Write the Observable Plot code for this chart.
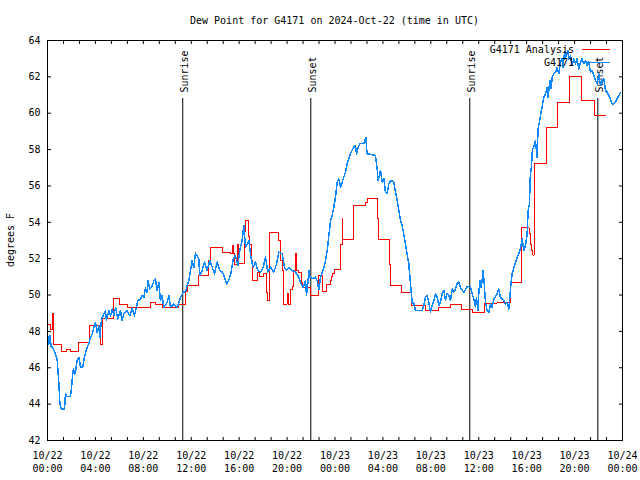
<!DOCTYPE html>
<html><head><meta charset="utf-8">
<script src="https://cdn.jsdelivr.net/npm/d3@7"></script>
<script src="https://cdn.jsdelivr.net/npm/@observablehq/plot@0.6"></script>
<style>body{margin:0;background:#fff} svg{display:block}</style>
</head><body><div id="chart"></div>
<script>
// ---- data ----
const startDay = Date.UTC(2024, 9, 22); // 2024-10-22 00:00 UTC
const chartTitle = "Dew Point for G4171 on 2024-Oct-22 (time in UTC)";
const yAxisLabel = "degrees F";
const seriesNames = ["G4171 Analysis", "G4171"];
const seriesColors = ["#ff0000", "#1088ff"];

// Observations (hours since start, °F)
const obsHours = [0,0.11,0.19,0.31,0.39,0.67,0.81,0.95,1.03,1.14,1.42,1.5,1.64,1.92,2.0,2.09,2.17,2.28,2.37,2.48,2.64,2.75,2.95,3.03,3.12,3.26,3.45,3.59,3.73,3.87,4.01,4.15,4.28,4.37,4.51,4.7,4.84,4.92,5.12,5.26,5.4,5.54,5.68,5.87,6.09,6.23,6.37,6.65,6.87,7.07,7.26,7.43,7.54,7.76,7.9,8.04,8.18,8.32,8.38,8.54,8.74,8.88,9.02,9.15,9.29,9.43,9.57,9.71,9.99,10.13,10.27,10.55,10.82,10.96,11.1,11.32,11.52,11.66,11.8,11.94,12.07,12.21,12.35,12.49,12.63,12.71,
12.91,13.11,13.33,13.55,13.75,13.94,14.16,14.38,14.58,14.72,14.94,15.13,15.33,15.5,15.69,15.89,16.05,16.25,16.39,16.53,16.81,17.0,17.17,17.36,17.55,17.78,18.0,18.2,18.39,18.62,18.89,19.12,19.31,19.59,19.78,19.95,20.15,20.42,20.7,20.98,21.17,21.34,21.54,21.62,21.73,21.82,21.9,22.09,22.37,22.51,22.65,22.79,22.93,
23.07,23.21,23.35,23.49,23.63,23.76,23.9,24.04,24.18,24.32,24.46,24.6,24.73,24.87,25.01,25.15,25.29,25.43,25.57,25.71,25.79,25.9,26.07,26.41,26.57,26.68,27.38,27.52,27.6,27.8,27.94,28.08,28.21,28.35,28.49,28.69,28.91,29.05,29.19,29.33,29.47,29.6,29.74,29.88,30.02,30.16,30.3,30.44,30.58,30.72,31.27,31.41,31.55,31.69,31.83,31.97,32.11,32.25,32.39,32.53,32.67,32.81,32.94,33.08,33.22,33.36,33.5,33.64,33.78,33.92,34.06,34.19,34.33,34.47,
34.75,35.03,35.31,35.45,35.59,35.73,35.81,35.92,36.0,36.09,36.2,36.28,36.37,36.48,36.56,36.7,36.84,36.98,37.12,37.26,37.4,37.53,37.67,37.81,37.95,38.09,38.23,38.37,38.51,38.59,38.7,38.79,38.93,39.07,39.2,39.34,39.48,39.62,39.76,39.9,40.04,40.12,40.23,40.31,40.4,40.48,40.59,40.73,40.87,40.95,41.09,41.15,41.29,41.43,41.57,41.71,41.79,41.93,42.04,42.13,42.27,42.41,42.54,42.68,42.82,42.96,43.04,43.16,43.24,43.32,43.44,43.52,43.66,43.79,43.93,44.07,44.21,44.35,44.49,44.63,44.77,44.91,45.05,45.19,45.33,45.46,45.6,45.74,45.88,46.02,46.16,46.3,46.44,46.58,46.72,46.86,46.99,47.13,47.27,47.41,47.55,47.69,47.83];
const obsValues = [47.86,47.3,47.77,47.13,47.16,46.76,46.43,45.1,44.1,43.74,43.74,44.57,44.42,44.42,44.84,45.57,45.94,45.66,45.94,46.4,46.58,46.03,46.03,46.4,46.67,47.03,47.31,47.67,47.86,48.22,48.5,47.95,48.31,47.67,48.68,48.95,49.14,48.59,49.14,48.86,49.23,48.86,49.32,48.68,49.14,48.59,48.95,49.14,48.86,49.28,48.86,49.36,49.69,49.78,49.96,49.87,50.38,50.14,50.78,50.33,50.51,50.78,50.87,50.23,50.69,49.69,49.96,49.32,49.59,49.96,49.32,49.5,49.32,49.59,49.87,50.14,50.2,50.51,50.78,51.33,51.88,51.51,52.3,52.15,51.97,51.06,
51.35,51.81,51.35,51.9,51.53,51.17,51.81,51.35,51.26,51.08,50.62,50.8,51.26,51.99,52.18,51.63,52.45,53.0,53.83,52.63,53.0,51.99,51.53,51.81,51.35,51.26,51.53,52.08,51.26,51.53,51.26,51.72,52.36,52.27,51.53,51.35,51.53,51.35,51.26,50.98,50.62,50.43,50.8,49.97,50.62,51.35,51.0,50.89,50.98,50.8,50.3,50.98,51.26,
51.53,51.9,52.45,53.28,54.1,54.38,54.83,55.38,56.21,56.39,55.93,56.21,56.48,56.76,57.22,57.49,57.77,57.95,58.13,58.23,57.77,58.04,58.32,58.35,58.68,57.77,57.68,56.94,56.3,56.85,56.21,56.39,55.66,55.57,56.12,56.3,56.21,55.66,55.2,54.65,54.1,53.83,53.37,52.82,52.27,51.72,50.62,49.61,49.52,49.15,49.15,49.43,49.88,49.98,49.61,49.06,49.43,49.7,50.07,49.88,49.43,49.61,50.07,50.25,49.7,50.07,49.98,49.7,50.34,50.16,50.34,50.62,50.71,50.43,
50.15,50.46,50.46,50.06,49.78,49.32,49.87,49.14,50.06,50.79,50.42,50.79,51.34,50.42,49.6,49.14,49.05,49.5,49.32,49.78,49.91,50.06,50.33,49.87,49.78,49.69,49.5,49.6,49.23,49.87,50.7,51.16,51.52,51.8,52.07,52.26,52.53,53.08,52.44,52.72,53.36,54.64,55.01,56.66,57.03,58.04,58.13,58.5,57.58,59.14,59.6,59.87,60.33,60.88,61.06,61.43,60.88,61.8,61.34,61.98,62.17,62.26,62.53,62.17,62.81,62.99,62.53,63.36,63.08,63.17,63.45,62.99,63.17,62.62,62.99,62.72,62.99,62.44,62.81,62.99,62.72,62.9,62.62,62.81,62.26,62.35,62.07,61.8,61.61,62.17,61.52,61.8,61.89,61.25,61.16,60.97,60.79,60.51,60.51,60.61,60.79,60.97,61.1];

// Analysis (step series; hours since start, °F)
const anaHours = [0,0.25,0.45,0.52,1.14,1.59,1.92,2.55,3.53,4.45,4.62,5.5,6.04,6.65,8.6,9.0,9.57,10.96,11.5,11.66,12.63,13.47,13.61,14.58,15.28,15.45,15.55,15.61,15.89,15.95,16.45,16.55,16.75,16.9,17.0,17.08,17.14,17.56,17.72,18.06,18.28,18.35,18.56,19.31,19.45,19.59,19.73,20.0,20.15,20.29,20.43,20.56,20.7,20.79,20.98,21.17,21.25,21.98,22.6,22.93,23.26,23.62,23.7,23.81,23.98,24.45,24.6,24.66,25.55,26.55,26.68,27.58,27.64,28.57,28.62,29.55,30.35,31.55,32.67,33.64,34.6,35.45,36.45,37.53,38.65,39.6,40.2,40.3,40.4,40.5,40.62,41.65,42.54,43.6,44.6,45.65,46.63];
const anaValues = [48.4,48.1,49.0,47.3,46.9,47.0,46.9,47.4,48.35,47.3,48.7,49.8,49.5,49.3,49.6,49.5,49.3,49.5,50.2,50.5,51.1,51.9,52.6,52.36,52.27,52.7,52.27,51.7,52.8,51.75,53.5,54.1,53.2,52.8,51.9,51.35,50.8,51.26,51.0,51.17,50.16,49.7,53.46,53.0,51.9,51.35,49.5,50.1,49.5,50.3,50.45,51.35,52.3,51.35,51.26,50.7,50.43,49.97,51.07,50.2,50.6,50.8,51.0,51.2,51.4,52.8,54.2,53.05,54.9,55.1,55.3,54.2,53.05,51.7,50.5,50.15,49.4,49.15,49.3,49.5,49.2,49.05,49.55,49.6,50.7,53.7,53.4,52.8,52.45,52.2,57.25,59.2,60.6,62.0,60.7,59.85,59.85];

// Sunrise / sunset markers
const eventHours = [11.29, 21.98, 35.25, 45.94];
const eventLabels = ["Sunrise", "Sunset", "Sunrise", "Sunset"];

// Axis ticks
const yTicks = [42,44,46,48,50,52,54,56,58,60,62,64];
const xTickStepHours = 4/3;   // minor tick every 80 min
const xLabelStepHours = 4;
const xSpanHours = 48;

// ---- build ----
const toDate = h => new Date(startDay + h * 3600e3);
const obs = obsHours.map((h, i) => ({date: toDate(h), value: obsValues[i]}));
const ana = anaHours.map((h, i) => ({date: toDate(h), value: anaValues[i]}));
const events = eventHours.map((h, i) => ({date: toDate(h), label: eventLabels[i]}));
const xTicks = d3.range(0, xSpanHours + 1e-6, xTickStepHours).map(toDate);
const fmt = d3.utcFormat("%m/%d\n%H:%M");
const xFormat = d => {
  const h = (d - startDay) / 3600e3;
  const r = Math.round(h);
  return (Math.abs(h - r) < 1e-6 && r % xLabelStepHours === 0) ? fmt(d) : "";
};

const font = "'DejaVu Sans Mono', 'Liberation Mono', monospace";

const chart = Plot.plot({
  width: 640, height: 480,
  marginLeft: 47, marginRight: 18, marginTop: 40, marginBottom: 40,
  style: {fontFamily: font, fontSize: "10px", background: "#fff", color: "#000", overflow: "visible"},
  x: {type: "utc", domain: [toDate(0), toDate(xSpanHours)]},
  y: {domain: [42, 64]},
  marks: [
    Plot.axisX({anchor: "bottom", ticks: xTicks, tickSize: -3, tickPadding: 13, tickFormat: xFormat, label: null, lineHeight: 1.25, fill: "#000"}),
    Plot.axisX({anchor: "top", ticks: xTicks, tickSize: -3, tickFormat: () => "", label: null}),
    Plot.axisY({anchor: "left", ticks: yTicks, tickSize: -4, tickPadding: 11, label: null, fill: "#000"}),
    Plot.axisY({anchor: "right", ticks: yTicks, tickSize: -4, tickFormat: () => "", label: null}),
    Plot.ruleX(events, {x: "date", insetTop: 58, stroke: "#000", strokeWidth: 1}),
    Plot.text(events, {x: "date", text: "label", frameAnchor: "top", rotate: -90, textAnchor: "start", dy: 52, dx: -2, fill: "#000"}),
    Plot.line(ana, {x: "date", y: "value", curve: "step-after", stroke: seriesColors[0], strokeWidth: 1, shapeRendering: "crispEdges"}),
    Plot.line(obs, {x: "date", y: "value", stroke: seriesColors[1], strokeWidth: 1.5, shapeRendering: "crispEdges"}),
    Plot.frame({stroke: "#000", strokeWidth: 1})
  ]
});

const svg = d3.select(chart);
// title
svg.append("text").attr("x", 334.5).attr("y", 20).attr("dy", "0.35em")
  .attr("text-anchor", "middle").attr("font-family", font).attr("font-size", 10).attr("fill", "#000")
  .text(chartTitle);
// y label
svg.append("text").attr("transform", "translate(10,240) rotate(-90)").attr("dy", "0.35em")
  .attr("text-anchor", "middle").attr("font-family", font).attr("font-size", 10).attr("fill", "#000")
  .text(yAxisLabel);
// legend
seriesNames.forEach((name, i) => {
  const cy = 49.5 + i * 13;
  svg.append("text").attr("x", 574).attr("y", cy).attr("dy", "0.35em")
    .attr("text-anchor", "end").attr("font-family", font).attr("font-size", 10).attr("fill", "#000")
    .text(name);
  svg.append("line").attr("x1", 582).attr("x2", 610).attr("y1", Math.round(cy) - 0.5).attr("y2", Math.round(cy) - 0.5)
    .attr("stroke", seriesColors[i]).attr("stroke-width", 1);
});

document.getElementById("chart").appendChild(chart);
</script>
</body></html>
